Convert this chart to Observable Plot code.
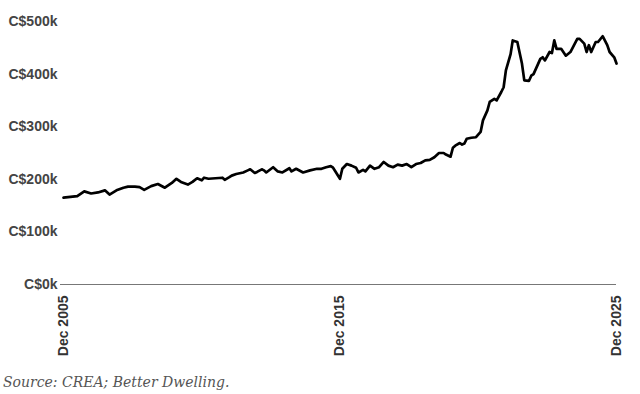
<!DOCTYPE html>
<html>
<head>
<meta charset="utf-8">
<script src="https://cdn.jsdelivr.net/npm/d3@7"></script>
<script src="https://cdn.jsdelivr.net/npm/@observablehq/plot@0.6"></script>
<style>
  html, body { margin: 0; padding: 0; background: #fff; }
  #chart svg { display: block; }
  #caption {
    font-family: "DejaVu Serif", serif;
    font-style: italic;
    font-size: 14px;
    color: #555;
    margin: 12px 0 0 3px;
    line-height: 17px;
  }
</style>
</head>
<body>
<div id="chart"></div>
<div id="caption">Source: CREA; Better Dwelling.</div>
<script>
const months = [
  "2005-12","2006-06","2006-09","2006-12","2007-03","2007-06","2007-08","2007-11",
  "2008-02","2008-04","2008-07","2008-09","2008-11","2009-02","2009-05","2009-08",
  "2009-11","2010-01","2010-03","2010-06","2010-08","2010-10","2010-12","2011-01",
  "2011-03","2011-06","2011-09","2011-10","2011-12","2012-01","2012-03","2012-06",
  "2012-08","2012-09","2012-11","2012-12","2013-02","2013-03","2013-04","2013-07",
  "2013-09","2013-11","2014-02","2014-03","2014-05","2014-08","2014-11","2015-02",
  "2015-04","2015-06","2015-08","2015-09","2015-12","2016-01","2016-03","2016-05",
  "2016-07","2016-08","2016-10","2016-11","2017-01","2017-03","2017-05","2017-07",
  "2017-09","2017-11","2018-01","2018-03","2018-05","2018-07","2018-09","2018-11",
  "2019-01","2019-03","2019-05","2019-07","2019-09","2019-10","2019-12","2020-01",
  "2020-02","2020-04","2020-05","2020-06","2020-07","2020-09","2020-11","2021-01",
  "2021-02","2021-04","2021-05","2021-07","2021-08","2021-10","2021-11","2021-12",
  "2022-02","2022-03","2022-05","2022-07","2022-08","2022-10","2022-11","2022-12",
  "2023-02","2023-03","2023-04","2023-05","2023-07","2023-08","2023-09","2023-10",
  "2023-12","2024-02","2024-04","2024-07","2024-08","2024-10","2024-11","2024-12",
  "2025-01","2025-03","2025-04","2025-06","2025-08","2025-09","2025-11","2025-12"
];
const prices = [
  165,168,177,173,175,179,171,179,
  184,186,186,185,180,187,191,184,
  193,201,195,190,195,202,198,203,
  201,202,203,199,204,207,210,213,
  217,219,212,214,219,217,213,223,
  215,213,221,215,220,213,217,220,
  220,223,225,222,201,220,229,226,
  222,213,218,215,226,220,223,233,
  226,223,228,226,229,223,229,231,
  236,237,242,250,250,247,243,260,
  264,269,266,268,277,279,280,290,
  312,331,347,353,350,366,375,407,
  438,464,461,420,388,387,397,400,
  420,429,432,426,442,440,464,448,
  448,435,442,467,467,458,442,455,
  442,461,461,472,455,442,432,420
];
const yTicks = [0, 100, 200, 300, 400, 500];
const yTickLabels = ["C$0k", "C$100k", "C$200k", "C$300k", "C$400k", "C$500k"];
const xTicks = ["2005-12", "2015-12", "2025-12"];
const xTickLabels = ["Dec 2005", "Dec 2015", "Dec 2025"];

const parse = d3.utcParse("%Y-%m");
const data = months.map((m, i) => ({date: parse(m), price: prices[i]}));
const xTickDates = xTicks.map(parse);

const chart = Plot.plot({
  width: 640,
  height: 362,
  marginLeft: 60,
  marginRight: 24,
  marginTop: 21,
  marginBottom: 78,
  insetLeft: 3,
  style: {fontFamily: "'Liberation Sans', Arial, sans-serif", background: "#fff"},
  x: {type: "utc", domain: [xTickDates[0], xTickDates[2]]},
  y: {domain: [0, 500]},
  marks: [
    Plot.ruleY([0], {stroke: "#777", strokeWidth: 1}),
    Plot.axisY({
      ticks: yTicks,
      tickFormat: (d) => yTickLabels[yTicks.indexOf(d)],
      tickSize: 0,
      tickPadding: 3,
      fontSize: 14,
      fontWeight: "bold",
      fill: "#444",
      label: null
    }),
    Plot.axisX({
      ticks: xTickDates,
      tickFormat: (d) => xTickLabels[xTickDates.findIndex((t) => +t === +d)],
      tickRotate: -90,
      tickSize: 0,
      tickPadding: 11,
      fontSize: 14,
      fontWeight: "bold",
      fill: "#333",
      label: null
    }),
    Plot.line(data, {x: "date", y: "price", stroke: "#000", strokeWidth: 2.7, strokeLinejoin: "round"})
  ]
});
document.getElementById("chart").appendChild(chart);
</script>
</body>
</html>
